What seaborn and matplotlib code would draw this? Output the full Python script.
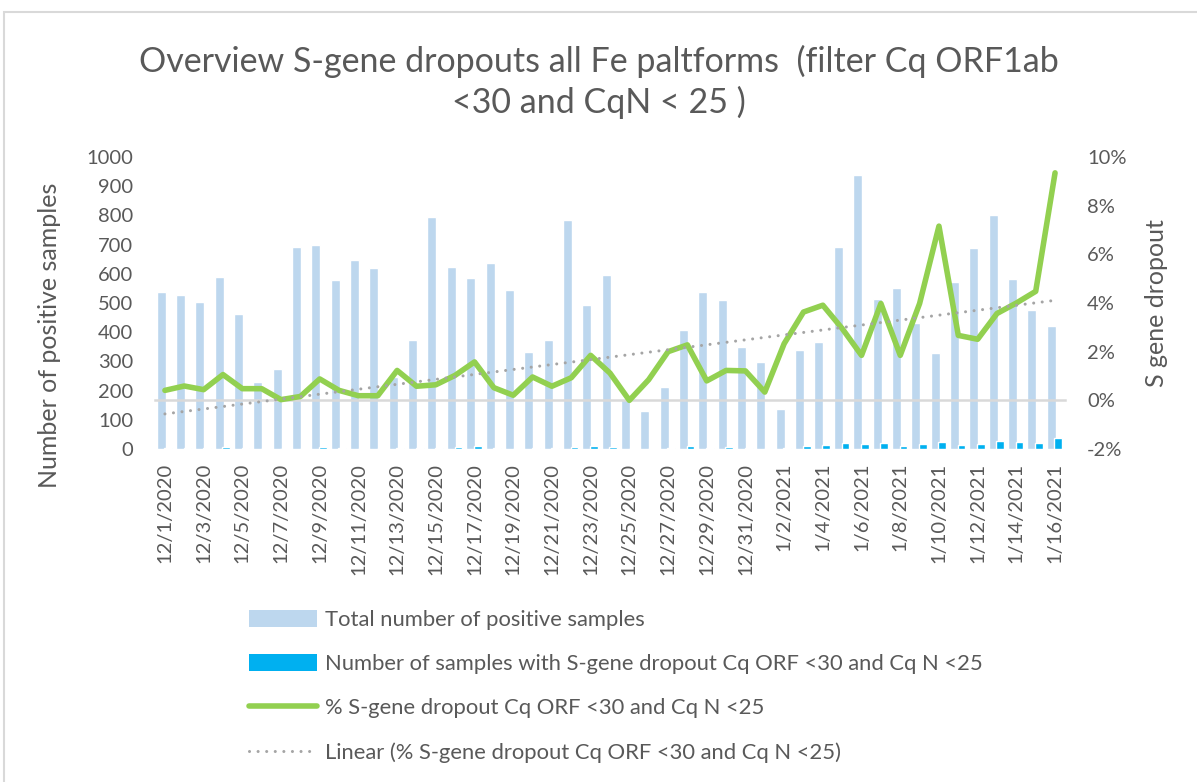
import numpy as np
import pandas as pd
import matplotlib
matplotlib.use("Agg")
import matplotlib.pyplot as plt
import seaborn as sns
from matplotlib.patches import Patch, Rectangle
from matplotlib.lines import Line2D
from matplotlib.ticker import PercentFormatter

# categories: one bar per day, 1 Dec 2020 - 16 Jan 2021
dates = pd.date_range("2020-12-01", "2021-01-16")
date_labels = [f"{d.month}/{d.day}/{d.year}" for d in dates]

# values
total_pos = [539, 527, 503, 590, 463, 231, 273, 693, 698, 580,
             646, 621, 245, 373, 795, 625, 585, 637, 546, 333,
             373, 784, 493, 595, 170, 130, 213, 408, 537, 511,
             349, 297, 137, 339, 368, 693, 938, 514, 551, 430,
             328, 571, 688, 802, 581, 476, 422]
dropout_n = [2, 3, 2, 6, 2, 1, 0, 1, 6, 2,
             1, 1, 3, 2, 5, 6, 9, 3, 1, 3,
             2, 7, 9, 7, 0, 1, 4, 9, 4, 6,
             4, 1, 3, 12, 14, 20, 17, 20, 10, 17,
             24, 15, 17, 29, 23, 21, 39]
dropout_pct = [0.41, 0.59, 0.44, 1.06, 0.48, 0.48, 0.03, 0.16, 0.88, 0.41,
               0.19, 0.19, 1.23, 0.58, 0.64, 1.03, 1.58, 0.52, 0.21, 0.96,
               0.58, 0.93, 1.85, 1.12, 0.00, 0.85, 2.00, 2.28, 0.80, 1.23,
               1.21, 0.34, 2.33, 3.63, 3.91, 2.95, 1.85, 3.98, 1.85, 3.98,
               7.16, 2.67, 2.51, 3.57, 4.00, 4.48, 9.35]

lbl_total = "Total number of positive samples"
lbl_n = "Number of samples with S-gene dropout Cq ORF <30 and Cq N <25"
lbl_pct = "% S-gene dropout Cq ORF <30 and Cq N <25"
lbl_trend = "Linear (% S-gene dropout Cq ORF <30 and Cq N <25)"

light = "#BDD7EE"
dark = "#00B0F0"
green = "#92D050"
grey = "#A5A5A5"
txt = "#595959"
axis_grey = "#D9D9D9"

sns.set_theme(style="white")
plt.rcParams["font.family"] = ["Lato", "DejaVu Sans"]
plt.rcParams["axes.unicode_minus"] = False

fig = plt.figure(figsize=(11.97, 7.82), dpi=100)
ax = fig.add_axes([0.1297, 0.4258, 0.7598, 0.3734])

n = len(date_labels)
bars = pd.DataFrame({
    "date": date_labels * 2,
    "count": total_pos + dropout_n,
    "series": [lbl_total] * n + [lbl_n] * n,
})
sns.barplot(data=bars, x="date", y="count", hue="series",
            palette=[light, dark], saturation=1, width=0.8, dodge=True,
            legend=False, ax=ax)

# excel style overlap: wider light bar, dark bar slightly tucked in
for p in ax.patches[:n]:
    cx = p.get_x() + p.get_width() / 2
    p.set_x(cx - 0.2325)
    p.set_width(0.465)
for p in ax.patches[n:2 * n]:
    cx = p.get_x() + p.get_width() / 2 - 0.035
    p.set_x(cx - 0.2)
    p.set_width(0.4)

ax.set_ylim(0, 1000)
ax.set_yticks(range(0, 1001, 100))
ax.set_xlim(-0.5, n - 0.5)
for s in ax.spines.values():
    s.set_visible(False)

ax2 = ax.twinx()
xs = np.arange(n)
sns.lineplot(x=xs, y=dropout_pct, ax=ax2, color=green, lw=4.0,
             solid_joinstyle="round", solid_capstyle="round", zorder=3)
sns.regplot(x=xs, y=dropout_pct, ax=ax2, scatter=False, ci=None, truncate=True,
            line_kws=dict(color=grey, lw=2.2, ls=(0, (0.01, 2.8)),
                          dash_capstyle="round", zorder=4))
ax2.set_ylim(-2, 10)
ax2.set_yticks(range(-2, 11, 2))
ax2.yaxis.set_major_formatter(PercentFormatter(decimals=0))
ax2.set_xlim(-0.5, n - 0.5)
for k in ["top", "left", "right"]:
    ax2.spines[k].set_visible(False)
ax2.spines["bottom"].set_position(("data", 0))
ax2.spines["bottom"].set_color(axis_grey)
ax2.spines["bottom"].set_linewidth(1.8)
ax2.xaxis.set_visible(True)

# category ticks / labels (shared x axis)
ax.set_xticks(range(0, n, 2))
ax.set_xticklabels(date_labels[::2], rotation=90)
ax.set_xticks(np.arange(-0.5, n - 1, 2), minor=True)
ax.set_xlabel("")
ax.tick_params(axis="x", which="both", length=0, pad=10, labelsize=14.5,
               labelcolor=txt)
ax2.tick_params(axis="x", which="major", length=0, labelbottom=False)
ax2.tick_params(axis="x", which="minor", length=5, width=1.8,
                color=axis_grey, direction="out", labelbottom=False)

ax.tick_params(axis="y", length=0, pad=16, labelsize=14.5, labelcolor=txt)
ax2.tick_params(axis="y", length=0, pad=16, labelsize=14.5, labelcolor=txt)

ax.set_ylabel("Number of positive samples", fontsize=18, color=txt)
ax.yaxis.set_label_coords(-0.104, 0.39)
ax2.set_ylabel("S gene dropout", fontsize=18, color=txt)
ax2.yaxis.set_label_coords(1.088, 0.5)

fig.text(0.5, 1 - 82 / 782,
         "Overview S-gene dropouts all Fe paltforms  (filter Cq ORF1ab\n<30 and CqN < 25 )",
         ha="center", va="center", fontsize=24.5, color=txt, linespacing=1.27)

handles = [
    Patch(facecolor=light, edgecolor="none"),
    Patch(facecolor=dark, edgecolor="none"),
    Line2D([], [], color=green, lw=4.0, solid_capstyle="round"),
    Line2D([], [], color=grey, lw=2.2, ls=(0, (0.01, 2.8)), dash_capstyle="round"),
]
fig.legend(handles, [lbl_total, lbl_n, lbl_pct, lbl_trend],
           loc="upper left", bbox_to_anchor=(249 / 1197, 1 - 610 / 782),
           frameon=False, fontsize=15.8, labelcolor=txt, handlelength=3.1,
           handleheight=0.8, handletextpad=0.36, labelspacing=1.1,
           borderpad=0, borderaxespad=0)

# thin chart-area border like the spreadsheet export
fig.patches.append(Rectangle((4 / 1197, -0.1), 1.2, 1.1 - 12 / 782,
                             transform=fig.transFigure, fill=False,
                             edgecolor=axis_grey, lw=1.5))

fig.savefig("out.png", dpi=100)
